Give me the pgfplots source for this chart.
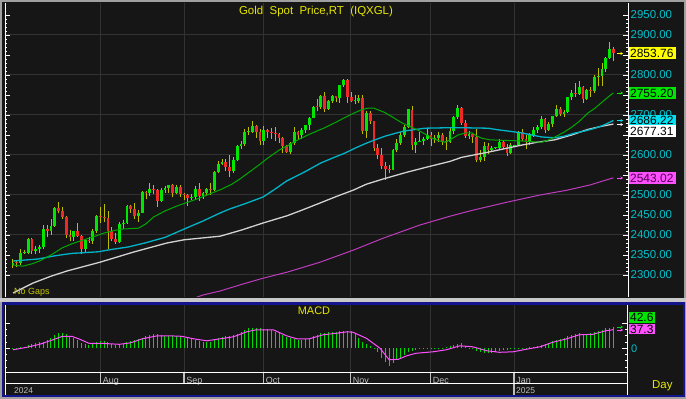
\documentclass[border=0pt]{standalone}
\usepackage{pgfplots}
\pgfplotsset{compat=1.18}
\usepackage{pgfplotstable}
\usepackage{fontspec}
\setmainfont{Liberation Sans}
\usetikzlibrary{arrows.meta}

\definecolor{bgc}{HTML}{161616}
\definecolor{outc}{HTML}{A0A0A0}
\definecolor{gapc}{HTML}{C8C8C8}
\definecolor{bluec}{HTML}{14148C}
\definecolor{gridc}{HTML}{323232}
\definecolor{titc}{HTML}{E6E600}
\definecolor{nogc}{HTML}{C8C800}
\definecolor{labc}{HTML}{00C0CC}
\definecolor{upc}{HTML}{00E600}
\definecolor{dnc}{HTML}{F02828}
\definecolor{wickc}{HTML}{BEBE00}
\definecolor{ma20}{HTML}{00AA00}
\definecolor{ma50}{HTML}{00B4C8}
\definecolor{ma100}{HTML}{D2D2D2}
\definecolor{ma200}{HTML}{BE3CBE}
\definecolor{macdg}{HTML}{00DC00}
\definecolor{sigc}{HTML}{FF50FF}
\definecolor{datec}{HTML}{BEBEBE}
\definecolor{boxy}{HTML}{FFFF00}
\definecolor{boxg}{HTML}{00E600}
\definecolor{boxc}{HTML}{00E0F0}
\definecolor{boxm}{HTML}{FF50FF}
\definecolor{boxmt}{HTML}{500050}

\newcommand{\fs}[1]{\fontsize{#1}{#1}\selectfont}

\pgfplotstableread{
i O H L C U
0 2326 2339 2318 2331 1
1 2331 2336 2319 2330 0
2 2330 2365 2326 2356 1
3 2356 2363 2352 2356 1
4 2356 2392 2353 2391 1
5 2391 2393 2353 2359 0
6 2359 2372 2352 2364 1
7 2364 2375 2356 2371 1
8 2371 2424 2366 2415 1
9 2415 2425 2395 2411 0
10 2411 2440 2400 2422 1
11 2422 2469 2421 2467 1
12 2467 2483 2454 2459 0
13 2459 2470 2441 2445 0
14 2445 2448 2393 2400 0
15 2400 2412 2384 2396 0
16 2396 2411 2385 2409 1
17 2409 2431 2395 2398 0
18 2398 2399 2353 2364 0
19 2364 2390 2357 2387 1
20 2387 2396 2381 2384 0
21 2384 2414 2378 2411 1
22 2411 2451 2406 2448 1
23 2448 2470 2430 2446 0
24 2446 2477 2432 2443 0
25 2443 2461 2364 2410 0
26 2410 2419 2384 2390 0
27 2390 2404 2377 2382 0
28 2382 2432 2380 2427 1
29 2427 2437 2414 2431 1
30 2431 2474 2428 2472 1
31 2472 2476 2456 2465 0
32 2465 2479 2440 2447 0
33 2447 2462 2432 2456 1
34 2456 2509 2455 2507 1
35 2507 2511 2489 2504 0
36 2504 2531 2497 2514 1
37 2514 2525 2502 2512 0
38 2512 2514 2470 2484 0
39 2484 2518 2482 2512 1
40 2512 2522 2505 2518 1
41 2518 2526 2506 2525 1
42 2525 2528 2494 2504 0
43 2504 2524 2502 2520 1
44 2520 2526 2495 2503 0
45 2503 2505 2488 2500 0
46 2500 2503 2472 2493 0
47 2493 2503 2487 2495 1
48 2495 2523 2490 2516 1
49 2516 2529 2485 2497 0
50 2497 2507 2491 2506 1
51 2506 2518 2500 2516 1
52 2516 2529 2500 2512 0
53 2512 2560 2510 2558 1
54 2558 2586 2555 2578 1
55 2578 2590 2574 2582 1
56 2582 2589 2560 2569 0
57 2569 2600 2546 2559 0
58 2559 2596 2555 2587 1
59 2587 2625 2585 2622 1
60 2622 2634 2615 2628 1
61 2628 2664 2622 2657 1
62 2657 2670 2651 2657 1
63 2657 2685 2655 2672 1
64 2672 2674 2643 2658 0
65 2658 2665 2625 2634 0
66 2634 2673 2624 2662 1
67 2662 2665 2642 2658 0
68 2658 2668 2641 2656 0
69 2656 2671 2635 2653 0
70 2653 2654 2631 2643 0
71 2643 2645 2604 2622 0
72 2622 2625 2605 2608 0
73 2608 2633 2603 2630 1
74 2630 2669 2626 2657 1
75 2657 2660 2638 2649 0
76 2649 2667 2640 2662 1
77 2662 2676 2656 2674 1
78 2674 2696 2662 2693 1
79 2693 2723 2692 2721 1
80 2721 2740 2709 2720 0
81 2720 2749 2715 2748 1
82 2748 2758 2708 2715 0
83 2715 2737 2713 2736 1
84 2736 2749 2730 2747 1
85 2747 2748 2733 2742 0
86 2742 2774 2731 2774 1
87 2774 2790 2770 2788 1
88 2788 2790 2730 2744 0
89 2744 2758 2732 2736 0
90 2736 2749 2728 2736 1
91 2736 2750 2729 2743 1
92 2743 2749 2652 2659 0
93 2659 2711 2643 2706 1
94 2706 2710 2678 2685 0
95 2685 2686 2611 2618 0
96 2618 2627 2589 2599 0
97 2599 2618 2564 2572 0
98 2572 2583 2537 2565 0
99 2565 2576 2555 2563 0
100 2563 2616 2562 2612 1
101 2612 2639 2607 2631 1
102 2631 2657 2625 2650 1
103 2650 2674 2646 2669 1
104 2669 2716 2668 2715 1
105 2712 2722 2613 2625 0
106 2625 2643 2605 2633 1
107 2633 2657 2632 2636 1
108 2636 2646 2624 2641 1
109 2641 2665 2638 2650 1
110 2650 2657 2622 2640 0
111 2640 2651 2630 2643 1
112 2643 2657 2632 2650 1
113 2650 2655 2625 2632 0
114 2632 2645 2613 2633 1
115 2633 2668 2631 2660 1
116 2660 2697 2653 2694 1
117 2694 2726 2690 2718 1
118 2718 2721 2675 2680 0
119 2680 2687 2643 2648 0
120 2648 2660 2641 2652 1
121 2652 2655 2631 2646 0
122 2646 2664 2583 2587 0
123 2587 2613 2583 2594 1
124 2594 2632 2584 2622 1
125 2622 2630 2603 2612 0
126 2612 2622 2608 2617 1
127 2617 2620 2614 2617 1
128 2617 2639 2615 2633 1
129 2633 2638 2614 2621 0
130 2621 2628 2597 2606 0
131 2606 2630 2603 2624 1
132 2624 2626 2622 2624 1
133 2624 2660 2622 2658 1
134 2658 2665 2635 2640 0
135 2640 2650 2614 2636 0
136 2636 2656 2626 2649 1
137 2649 2670 2645 2662 1
138 2662 2675 2656 2670 1
139 2670 2697 2664 2690 1
140 2690 2693 2656 2663 0
141 2663 2683 2661 2677 1
142 2677 2698 2669 2697 1
143 2697 2725 2695 2715 1
144 2715 2721 2697 2703 0
145 2703 2713 2695 2708 1
146 2708 2746 2705 2745 1
147 2745 2763 2737 2755 1
148 2755 2780 2746 2753 0
149 2753 2786 2750 2770 1
150 2770 2772 2730 2740 0
151 2740 2765 2738 2763 1
152 2763 2770 2745 2760 0
153 2760 2799 2755 2794 1
154 2794 2817 2772 2798 1
155 2798 2830 2772 2815 1
156 2815 2845 2808 2842 1
157 2842 2882 2841 2866 1
158 2866 2870 2834 2854 0
}\ohlc

\begin{document}
\begin{tikzpicture}
\useasboundingbox (0,0) rectangle (686bp,399bp);
\begin{scope}[x=1bp,y=-1bp,yshift=399bp]
\fill[outc] (0,0) rectangle (686,399);
\fill[bgc] (2,2) rectangle (684,298);
\fill[gapc] (0,298) rectangle (686,302);
\fill[bluec] (2,302) rectangle (685,397);
\fill[bgc] (4,305) rectangle (683,395);
\foreach \yy in {35,75,115,155,195,235,275} {\draw[gridc, line width=1bp] (5,\yy) -- (628,\yy);}
\foreach \xx in {100.5,184,263.5,350.5,430.5,514} {\draw[gridc, line width=1bp] (\xx,3) -- (\xx,297); \draw[gridc,line width=1bp] (\xx,305) -- (\xx,373);}
\draw[white, line width=1bp] (5,3) -- (5,297);
\draw[white, line width=1bp] (628,3) -- (628,297);
\draw[white, line width=1bp] (5,305) -- (5,395);
\draw[white, line width=1bp] (627,305) -- (627,395);
\end{scope}

\begin{axis}[at={(5bp,102bp)}, anchor=south west, scale only axis,
  width=623bp, height=294bp,
  xmin=-2.105, xmax=161.84, ymin=2245, ymax=2980,
  axis line style={draw=none},
  xtick=\empty,
  ytick={2300,2350,...,2950},
  yticklabels={2300.00,2350.00,2400.00,2450.00,2500.00,,2600.00,,2700.00,,2800.00,,2900.00,2950.00},
  minor y tick num=4,
  ytick pos=both, yticklabel pos=right,
  tick align=inside,
  major tick length=5bp, minor tick length=2.5bp,
  every tick/.style={white, line width=0.8bp},
  yticklabel style={font=\fs{11.5}, text=labc, anchor=west, inner sep=0pt, xshift=2.5bp},
]
% wicks (low to high)
\addplot[forget plot, mark=none, draw=wickc, line width=1bp,
  quiver={u=0, v={\thisrow{H}-\thisrow{L}}}]
  table[x=i, y=L] {\ohlc};
% up bodies (open to close)
\addplot[forget plot, mark=none, draw=upc, line width=2.8bp,
  restrict expr to domain={\thisrow{U}}{0.5:1.5},
  quiver={u=0, v={max(\thisrow{C}-\thisrow{O},2)}}]
  table[x=i, y=O] {\ohlc};
% down bodies (close to open)
\addplot[forget plot, mark=none, draw=dnc, line width=2.8bp,
  restrict expr to domain={\thisrow{U}}{-0.5:0.5},
  quiver={u=0, v={max(\thisrow{O}-\thisrow{C},2)}}]
  table[x=i, y=C] {\ohlc};
% 200-day
\addplot[ma200, line width=1bp, mark=none] coordinates {
(47,2240) (50,2250) (54.5,2260) (60,2276) (65.8,2292) (72.1,2307) (80.8,2332) (89.5,2362) (97.4,2392) (107.1,2425) (115,2447) (121,2462) (130,2482) (138.7,2500) (145.8,2512) (151.8,2525) (158,2543.02)};
% 100-day
\addplot[ma100, line width=1.3bp, mark=none] coordinates {
(0,2255) (5.3,2280) (10,2297) (14.2,2310) (22.9,2332) (31.6,2357) (40.5,2380) (45,2388) (49.2,2392) (54.5,2397) (60,2412) (65.8,2430) (72.1,2448) (76,2462) (80.8,2480) (85,2496) (89.5,2512) (93,2527) (97.4,2540) (103.7,2557) (109,2570) (115,2584) (118,2594) (125,2607) (130,2617) (134,2625) (138,2632) (142.6,2638) (147,2650) (151.3,2664) (155,2672) (158,2677.31)};
% 50-day
\addplot[ma50, line width=1.3bp, mark=none] coordinates {
(0,2335) (6.6,2340) (11,2348) (15.5,2354) (22.4,2358) (26,2364) (30.3,2370) (34.7,2380) (40,2394) (45.8,2418) (50,2435) (54.5,2455) (57,2465) (61,2478) (65.8,2495) (69,2515) (72,2535) (76.8,2558) (81,2580) (84,2592) (87.4,2605) (90,2617) (92.6,2628) (95,2637) (97.9,2647) (100.5,2654) (103,2660) (108.4,2667) (113.7,2668) (119,2668) (125,2667) (127.6,2663) (131,2659) (134,2655) (137,2649) (139.2,2645) (142.6,2643) (145,2647) (147.9,2655) (150.5,2660) (153.2,2667) (155.5,2675) (158,2686.22)};
% 20-day
\addplot[ma20, line width=1bp, mark=none] coordinates {
(0,2325) (2.6,2322) (5,2328) (7,2335) (10,2350) (13,2368) (15.5,2378) (18,2386) (21,2395) (24,2405) (27,2412) (29,2415) (33,2417) (35,2428) (37,2445) (40,2460) (43,2472) (46,2482) (49,2492) (52.4,2505) (55,2515) (57.6,2527) (60,2542) (62,2556) (65,2577) (67,2592) (70,2612) (72.4,2624) (75,2638) (77.6,2650) (80,2660) (82,2668) (85,2682) (87.4,2694) (90,2706) (92,2714) (93.4,2717) (95,2717) (97.9,2706) (100,2694) (102.4,2680) (105,2669) (106.6,2662) (108.5,2652) (110.3,2642) (112,2636) (113.7,2632) (115,2638) (117.1,2650) (119,2655) (120.8,2655) (122,2648) (123.4,2642) (125.5,2638) (127.6,2637) (131,2636) (134,2635) (137,2633) (139.2,2632) (141,2638) (142.6,2645) (145,2657) (147.1,2670) (149,2684) (151.3,2705) (153,2716) (155,2732) (157,2748) (158,2755.2)};
\end{axis}

\begin{axis}[at={(5bp,26bp)}, anchor=south west, scale only axis,
  width=622bp, height=68bp,
  xmin=-2.105, xmax=161.58, ymin=-49.4, ymax=86.6,
  axis line style={draw=none},
  xtick=\empty,
  ytick={-50,0,50}, yticklabels={},
  minor y tick num=3,
  ytick pos=both,
  tick align=inside,
  major tick length=5bp, minor tick length=2.5bp,
  every tick/.style={white, line width=0.8bp},
]
\addplot[ycomb, macdg, line width=1bp, mark=none] coordinates {
(0,-2)(1,-1)(2,2)(3,3)(4,6)(5,8)(6,10)(7,12)(8,13)(9,16)(10,20)(11,26)(12,31)(13,31)(14,28)(15,23)(16,20)(17,17)(18,10)(19,8)(20,7)(21,10)(22,13)(23,14)(24,15)(25,12)(26,9)(27,7)(28,7)(29,8)(30,12)(31,15)(32,16)(33,18)(34,21)(35,24)(36,27)(37,28)(38,28)(39,26)(40,25)(41,25)(42,25)(43,25)(44,23)(45,21)(46,20)(47,19)(48,17)(49,15)(50,13)(51,12)(52,13)(53,18)(54,21)(55,23)(56,24)(57,25)(58,27)(59,28)(60,33)(61,37)(62,40)(63,41)(64,41)(65,40)(66,38)(67,38)(68,36)(69,33)(70,30)(71,27)(72,23)(73,20)(74,18)(75,17)(76,17)(77,18)(78,20)(79,24)(80,27)(81,30)(82,31)(83,32)(84,32)(85,33)(86,34)(87,35)(88,35)(89,34)(90,30)(91,20)(92,13)(93,8)(94,4)(95,1)(96,-7)(97,-20)(98,-28)(99,-35)(100,-30)(101,-24)(102,-20)(103,-13)(104,-8)(105,-5)(106,-3)(107,-2)(108,-1.5)(109,-1)(110,-1)(111,1)(112,1)(113,1.5)(114,2)(115,5)(116,7)(117,9)(118,10)(119,5)(120,1)(121,-2)(122,-5)(123,-7)(124,-9)(125,-10)(126,-10)(127,-8)(128,-5)(129,-4)(130,-3)(131,-2)(132,-1.5)(133,1)(134,1)(135,1.5)(136,2)(137,3)(138,5)(139,7)(140,9)(141,11)(142,15)(143,17)(144,18)(145,21)(146,24)(147,27)(148,29)(149,30)(150,29)(151,28)(152,30)(153,32)(154,35)(155,37)(156,40)(157,41)(158,42.6)};
\addplot[sigc, line width=1bp, mark=none] coordinates {
(0,-3) (3.6,2) (7,8) (10.5,17) (13,24) (15.5,24) (17.6,18) (20,10) (23,10) (25.5,9) (28,8) (31,11) (34,19) (38,25) (41,25) (44.4,24) (47.5,19) (51,15) (54.5,19) (58,23) (61.5,33) (64,37) (68.5,37) (72,25) (74.7,19) (78,19) (81.6,27) (85,30) (88,33) (89.5,32) (93,20) (96.6,0) (99,-23) (101.4,-22) (103.6,-15) (106,-10) (110.5,-7) (114,-3) (117.6,5) (121,3) (124.7,-5) (128,-8) (131.6,-7) (135,-2) (138.7,3) (142,12) (145.7,19) (149,27) (152.6,28) (156,35) (158,37.3)};
\end{axis}

\begin{scope}[x=1bp,y=-1bp,yshift=399bp]
% titles
\node[titc, font=\fs{11.5}] at (316,12) {Gold\ \ Spot\ \ Price,RT\ \ (IQXGL)};
\node[nogc, font=\fs{9}, anchor=west, inner sep=0pt] at (14,292.5) {No Gaps};
\node[titc, font=\fs{11}] at (314,311) {MACD};
% arrows
\draw[boxy, line width=0.8bp, -{Stealth[length=2.5bp,width=3bp]}] (617,53.5) -- (623,53.5);
\draw[boxg, line width=0.8bp, -{Stealth[length=2.5bp,width=3bp]}] (617,93) -- (623,93);
\draw[boxc, line width=0.8bp, -{Stealth[length=2.5bp,width=3bp]}] (617,120.5) -- (623,120.5);
\draw[white, line width=0.8bp, -{Stealth[length=2.5bp,width=3bp]}] (617,124.5) -- (623,124.5);
\draw[boxm, line width=0.8bp, -{Stealth[length=2.5bp,width=3bp]}] (617,178) -- (623,178);
\draw[macdg, line width=0.8bp, -{Stealth[length=2.5bp,width=3bp]}] (617,327) -- (623,327);
\draw[sigc, line width=0.8bp, -{Stealth[length=2.5bp,width=3bp]}] (617,330) -- (623,330);
% value boxes
\fill[boxy] (629,47.5) rectangle (675.5,59.5);
\node[anchor=west, inner sep=0pt, font=\fs{12}] at (630,53.5) {2853.76};
\fill[boxg] (629,87) rectangle (675.5,99);
\node[anchor=west, inner sep=0pt, font=\fs{12}] at (630,93) {2755.20};
\fill[boxc] (629,115) rectangle (675.5,125.5);
\node[anchor=west, inner sep=0pt, font=\fs{12}] at (630,120.3) {2686.22};
\fill[white] (629,125) rectangle (675.5,137.5);
\node[anchor=west, inner sep=0pt, font=\fs{12}] at (630,131.3) {2677.31};
\fill[boxm] (629,172) rectangle (675.5,184);
\node[anchor=west, inner sep=0pt, font=\fs{12}, text=boxmt] at (630,178) {2543.02};
\fill[boxg] (629,312) rectangle (655,323.5);
\node[anchor=west, inner sep=0pt, font=\fs{12}] at (630,317.8) {42.6};
\fill[boxm] (629,324) rectangle (655,334.5);
\node[anchor=west, inner sep=0pt, font=\fs{12}] at (630,329.3) {37.3};
\node[anchor=west, inner sep=0pt, font=\fs{11}, text=labc] at (631,348.3) {0};
% date strip
\foreach \xx/\lab in {100.5/Aug,184/Sep,263.5/Oct,350.5/Nov,430.5/Dec,514/Jan} {
  \draw[datec, line width=1.5bp] (\xx,373) -- (\xx,384);
  \node[datec, anchor=base west, inner sep=0pt, font=\fs{9}] at (\xx+2.2,383.5) {\lab};
}
\draw[white, line width=1bp] (5,373) -- (627,373);
\draw[white, line width=1bp] (5,384) -- (627,384);
\draw[datec, line width=1.5bp] (514,384) -- (514,395);
\node[datec, anchor=base west, inner sep=0pt, font=\fs{8.5}] at (14,394) {2024};
\node[datec, anchor=base west, inner sep=0pt, font=\fs{8.5}] at (516,394) {2025};
\node[titc, anchor=base west, inner sep=0pt, font=\fs{11.5}] at (652,388.5) {Day};
\end{scope}
\end{tikzpicture}
\end{document}
